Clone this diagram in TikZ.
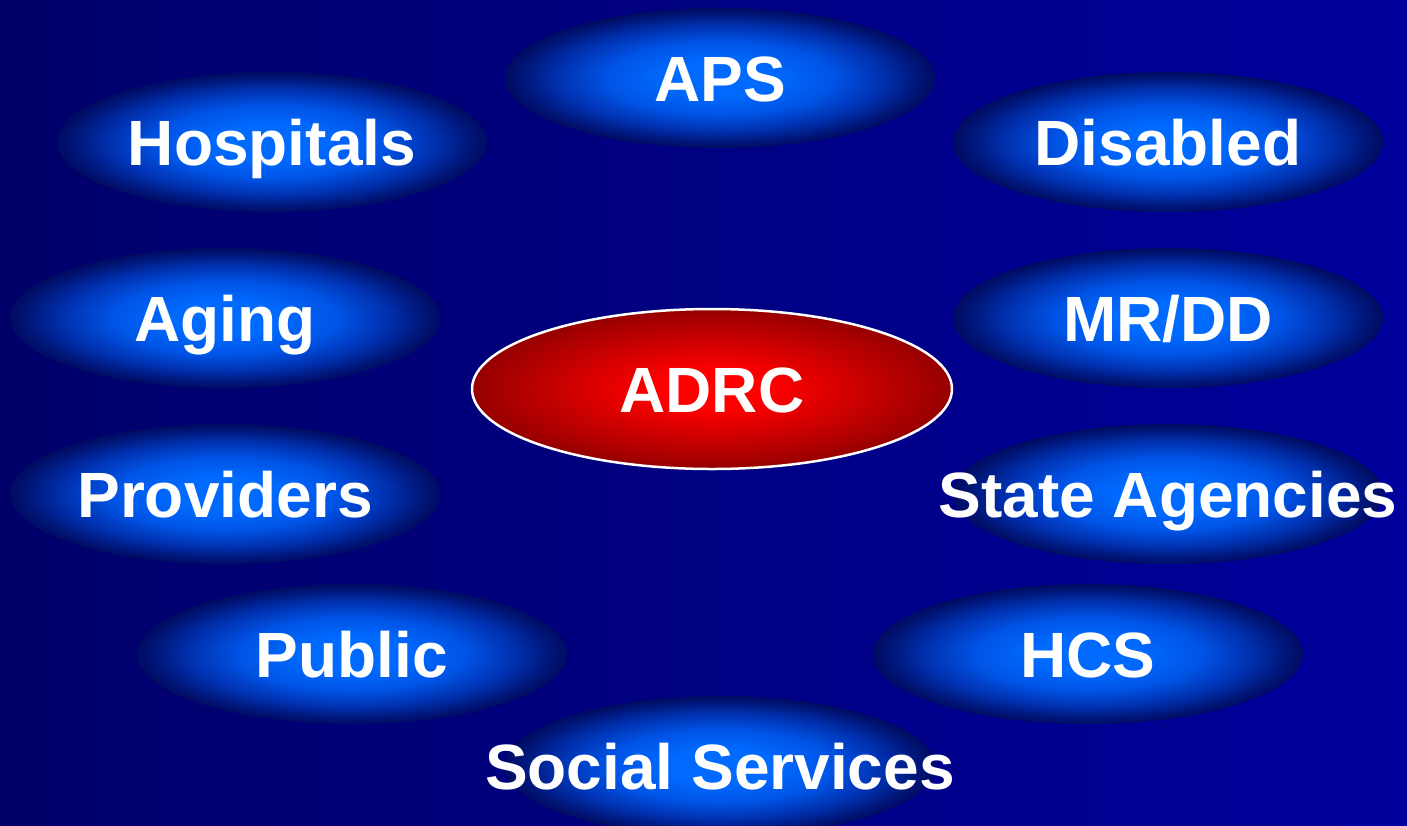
\documentclass[tikz,border=0pt]{standalone}
\usepackage{fontspec}
\setmainfont{Liberation Sans}
\usetikzlibrary{shapes.geometric}

\definecolor{bgleft}{HTML}{00006A}
\definecolor{bgright}{HTML}{00009C}
\definecolor{glowcore}{HTML}{006AFF}
\definecolor{glowmid}{HTML}{0054E6}
\definecolor{glowdark}{HTML}{0030AE}
\definecolor{glowdeep}{HTML}{001678}
\definecolor{glowrim}{HTML}{000C62}
\definecolor{hubcore}{HTML}{FF0000}
\definecolor{hubrim}{HTML}{960000}

\pgfdeclareradialshading{glow}{\pgfpointorigin}{color(0bp)=(glowcore); color(6bp)=(glowcore); color(13bp)=(glowmid); color(19bp)=(glowdark); color(23bp)=(glowdeep); color(25bp)=(glowrim); color(50bp)=(glowrim)}
\pgfdeclareradialshading{hub}{\pgfpointorigin}{color(0bp)=(hubcore); color(6bp)=(hubcore); color(25bp)=(hubrim); color(50bp)=(hubrim)}

\tikzstyle{cloud} = [ellipse, minimum width=430pt, minimum height=140pt, inner sep=0pt, shading=glow]
\tikzstyle{hubnode} = [ellipse, minimum width=480pt, minimum height=160pt, inner sep=0pt, shading=hub, draw=white, line width=2.5pt]
\tikzstyle{lbl} = [text=white, font=\fontsize{64}{70}\selectfont\bfseries, inner sep=0pt, text height=46pt, text depth=0pt]

\begin{document}
\begin{tikzpicture}[x=1pt, y=-1pt]
		% background
		\shade[left color=bgleft, right color=bgright] (0,0) rectangle (1407,825);
		\useasboundingbox (0,0) rectangle (1407,825);

		% outer ring
		\node[cloud, label={[lbl]center:APS}] (aps) at (720,78) {};
		\node[cloud, label={[lbl]center:Hospitals}] (hospitals) at (272,142) {};
		\node[cloud, label={[lbl]center:Disabled}] (disabled) at (1168,142) {};
		\node[cloud, label={[lbl]center:Aging}] (aging) at (225,318) {};
		\node[cloud, label={[lbl]center:MR/DD}] (mrdd) at (1168,318) {};
		\node[cloud, label={[lbl]center:Providers}] (providers) at (225,494) {};
		\node[cloud, label={[lbl]center:State Agencies}] (state) at (1168,494) {};
		\node[cloud, label={[lbl]center:Public}] (public) at (352,654) {};
		\node[cloud, label={[lbl]center:HCS}] (hcs) at (1088,654) {};
		\node[cloud, label={[lbl]center:Social Services}] (social) at (720,766) {};

		% centre
		\node[hubnode, label={[lbl]center:ADRC}] (adrc) at (712,389) {};
\end{tikzpicture}
\end{document}
